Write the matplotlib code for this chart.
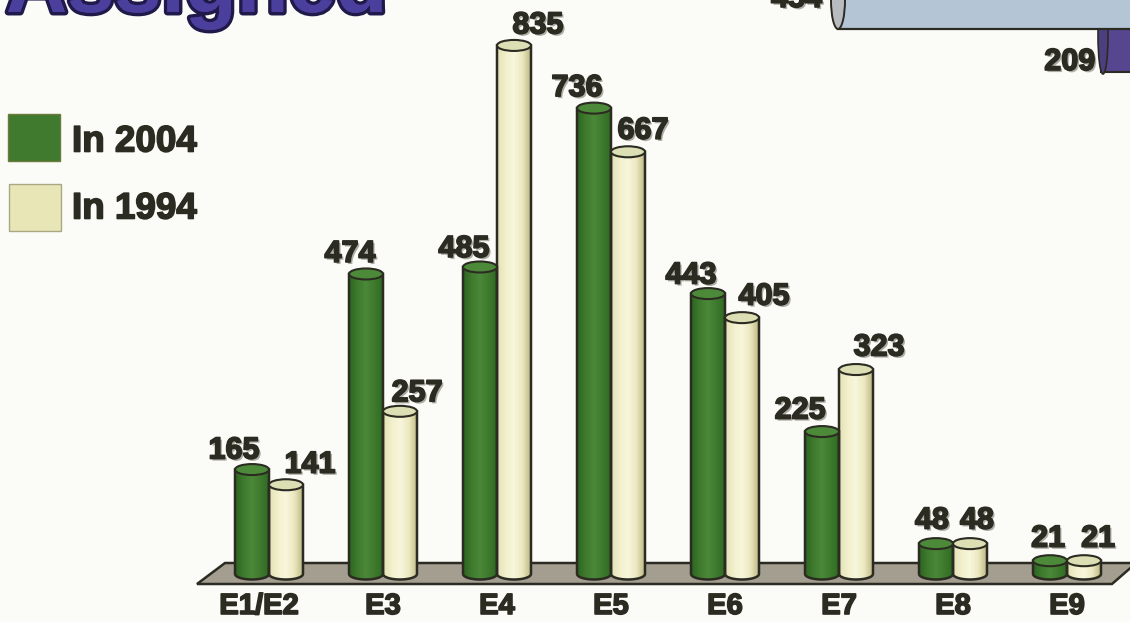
import matplotlib
matplotlib.use("Agg")
import matplotlib.pyplot as plt
import matplotlib.patches as mp
import matplotlib.patheffects as pe
from matplotlib.path import Path
from matplotlib.transforms import Affine2D
import numpy as np


GRADES = ["E1/E2", "E3", "E4", "E5", "E6", "E7", "E8", "E9"]
IN2004 = [165, 474, 485, 736, 443, 225, 48, 21]
IN1994 = [141, 257, 835, 667, 405, 323, 48, 21]

# label offset from top of bar, pixels
OFFS2004 = [(-18, 19), (-16, 20), (-16, 18), (-17, 20), (-17, 18), (-22, 21), (-4, 23), (-2, 22)]
OFFS1994 = [(24, 20), (17, 18), (24, 20), (15, 21), (22, 21), (23, 22), (7, 23), (14, 22)]
GRADE_SHIFT = [-10, 0, 0, 0, 0, 0, 0, 0]

W, H = 1130, 622
BG = "#fbfcf8"
DARK = "#2b2b22"
GREENS = ["#2c6620", "#3f7a2e", "#4b8838", "#3f7a2e", "#2e6a22"]
CREAMS = ["#e2e0b4", "#f2f0cc", "#f8f6dc", "#ece8c0", "#bdb985"]
GREEN_TOP = "#4c8a3a"
CREAM_TOP = "#dcdfb4"

PXX = 114.0   # pixels per category
PXY = 0.633   # pixels per person
X0, Y0 = 269, 574
BARW = 34 / PXX
CAP = 5.5 / PXY

plt.rcParams["font.family"] = ["Liberation Sans", "DejaVu Sans"]

fig = plt.figure(figsize=(W / 100, H / 100), dpi=100, facecolor=BG)
ax = fig.add_axes([0, 0, 1, 1])
ax.axis("off")

# y down pixel coordinates for the bits round the chart
px = Affine2D().scale(1, -1).translate(0, H)
heavy = [pe.withStroke(linewidth=1.2, foreground=DARK), pe.Normal()]
shadow = [pe.withSimplePatchShadow(offset=(1.5, -1.5), shadow_rgbFace="#9a9a90", alpha=0.8)] + heavy


def hexrgb(c):
    return np.array(matplotlib.colors.to_rgb(c))


def gradient(colours, n=64):
    stops = np.array([hexrgb(c) for c in colours])
    t = np.linspace(0, len(colours) - 1, n)
    r = [np.interp(t, range(len(colours)), stops[:, k]) for k in range(3)]
    return np.dstack(r)


def cylinder(x, value, colours, topcolour):
    xl, xr = x - BARW / 2, x + BARW / 2
    t = np.linspace(np.pi, 2 * np.pi, 30)
    lowx = x + BARW / 2 * np.cos(t)
    lowy = CAP * np.sin(t)
    vx = np.r_[lowx, xr, xl, xl]
    vy = np.r_[lowy, value, value, lowy[0]]
    body = mp.PathPatch(Path(np.c_[vx, vy]), fc="none", ec=DARK, lw=1.8, zorder=3)
    ax.add_patch(body)
    im = ax.imshow(gradient(colours), extent=(xl, xr, -CAP, value), aspect="auto", zorder=2.5)
    im.set_clip_path(body)
    ax.add_patch(mp.Ellipse((x, value), BARW, 2 * CAP, fc=topcolour, ec=DARK, lw=1.5, zorder=4))


# floor
ax.add_patch(mp.Polygon([(197, 584), (225, 563), (1135, 563), (1135, 564), (1112, 584)],
                        closed=True, fc="#a49e90", ec=DARK, lw=1.8, transform=px, zorder=1))

for i, grade in enumerate(GRADES):
    xg = i - 17 / PXX
    xc = i + 17 / PXX
    cylinder(xg, IN2004[i], GREENS, GREEN_TOP)
    cylinder(xc, IN1994[i], CREAMS, CREAM_TOP)
    ax.annotate(str(IN2004[i]), (xg, IN2004[i]), xytext=OFFS2004[i], textcoords="offset pixels",
                ha="center", va="center", fontsize=22, fontweight="bold", color=DARK,
                path_effects=shadow, zorder=6)
    ax.annotate(str(IN1994[i]), (xc, IN1994[i]), xytext=OFFS1994[i], textcoords="offset pixels",
                ha="center", va="center", fontsize=22, fontweight="bold", color=DARK,
                path_effects=shadow, zorder=6)
    ax.annotate(grade, (i, 0), xytext=(GRADE_SHIFT[i], -32), textcoords="offset pixels",
                ha="center", va="center", fontsize=21, fontweight="bold", color=DARK,
                path_effects=heavy, zorder=6)

ax.set_xlim(-X0 / PXX, (W - X0) / PXX)
ax.set_ylim((Y0 - H) / PXY, Y0 / PXY)

# legend
ax.add_patch(mp.Rectangle((8, 114), 52, 47, fc="#3f7a2e", ec="#6e7a3c", lw=1, transform=px))
ax.add_patch(mp.Rectangle((9, 184), 52, 47, fc="#e8e6b6", ec="#a8a884", lw=1, transform=px))
ax.text(72, 142, "In 2004", transform=px, ha="left", va="center", fontsize=26.5, fontweight="bold",
        color=DARK, path_effects=heavy)
ax.text(72, 209, "In 1994", transform=px, ha="left", va="center", fontsize=26.5, fontweight="bold",
        color=DARK, path_effects=heavy)

# rest of the title, cut by the page edge
ax.text(6, 12, "Assigned", transform=px, ha="left", va="baseline", fontsize=61, fontweight="bold",
        color="#4a3f9c", path_effects=[pe.withStroke(linewidth=5, foreground="#1f1a4a"), pe.Normal()],
        zorder=6)

# bottom of the cylinders of the chart above
ax.add_patch(mp.Rectangle((1101, -5), 40, 77, fc="#56458f", ec=DARK, lw=1.5, transform=px, zorder=1))
ax.add_patch(mp.Ellipse((1103, 36), 10, 76, fc="#4c3f80", ec=DARK, lw=1.2, transform=px, zorder=1.1))
ax.add_patch(mp.Rectangle((838, -5), 300, 34, fc="#b4c6d6", ec=DARK, lw=1.6, transform=px, zorder=2))
ax.add_patch(mp.Ellipse((838, 0), 14, 58, fc="#b8bcc0", ec=DARK, lw=1.4, transform=px, zorder=2.1))
ax.text(822, -1, "454", transform=px, ha="right", va="center", fontsize=22, fontweight="bold",
        color=DARK, path_effects=shadow)
ax.text(1095, 62, "209", transform=px, ha="right", va="center", fontsize=22, fontweight="bold",
        color=DARK, path_effects=shadow)

fig.savefig("out.png", dpi=100, facecolor=BG)
